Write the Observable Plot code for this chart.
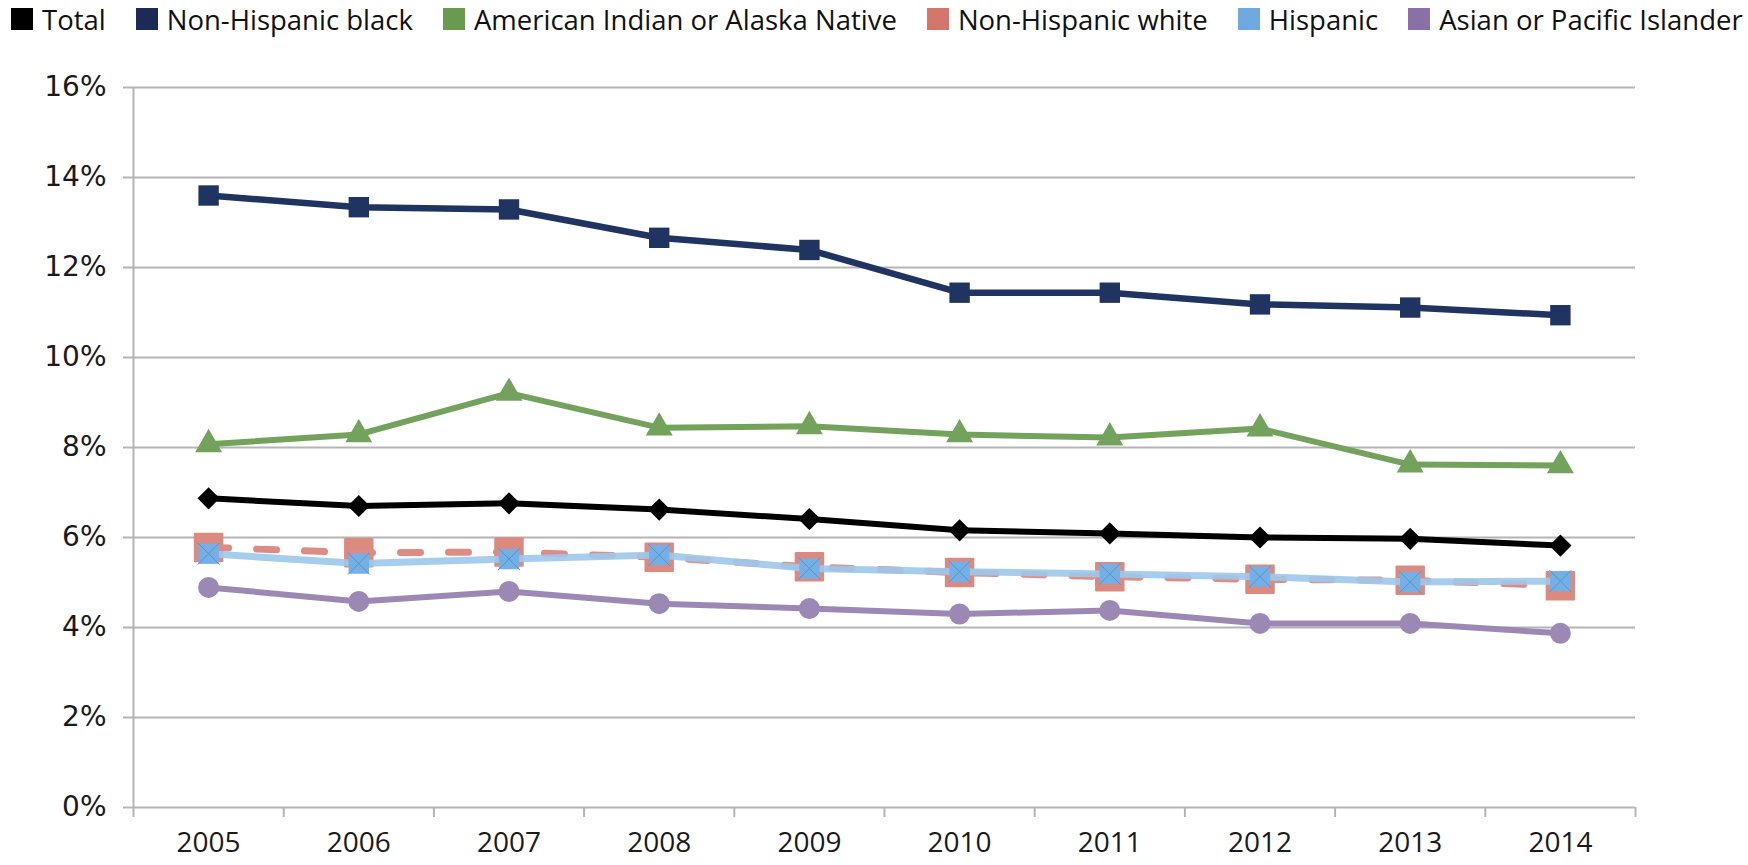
<!DOCTYPE html>
<html>
<head>
<meta charset="utf-8">
<script src="https://cdn.jsdelivr.net/npm/d3@7"></script>
<script src="https://cdn.jsdelivr.net/npm/@observablehq/plot@0.6"></script>
<style>
  html, body { margin: 0; padding: 0; background: #fff; }
  #legend { display: flex; align-items: center; height: 38px; padding-left: 11px; gap: 30px; white-space: nowrap;
    font-family: "Open Sans", sans-serif; font-size: 27.5px; color: #111; }
  #legend .item { display: flex; align-items: center; gap: 9px; white-space: nowrap; }
  #legend .sw { width: 22px; height: 22px; display: inline-block; flex: none; }
  #chart svg { display: block; }
</style>
</head>
<body>
<div id="legend"></div>
<div id="chart"></div>
<script>
const years = [2005, 2006, 2007, 2008, 2009, 2010, 2011, 2012, 2013, 2014];
const total    = [6.87, 6.70, 6.76, 6.62, 6.41, 6.16, 6.09, 6.00, 5.97, 5.82];
const nhBlack  = [13.60, 13.34, 13.29, 12.66, 12.39, 11.44, 11.44, 11.18, 11.11, 10.94];
const aian     = [8.07, 8.29, 9.21, 8.44, 8.47, 8.29, 8.22, 8.42, 7.62, 7.60];
const nhWhite  = [5.78, 5.66, 5.68, 5.56, 5.35, 5.22, 5.13, 5.07, 5.05, 4.93];
const hispanic = [5.64, 5.42, 5.52, 5.61, 5.31, 5.24, 5.19, 5.13, 5.01, 5.03];
const api      = [4.89, 4.58, 4.80, 4.53, 4.42, 4.30, 4.38, 4.09, 4.09, 3.87];
const yTicks = [0, 2, 4, 6, 8, 10, 12, 14, 16];

const seriesNames = ["Total", "Non-Hispanic black", "American Indian or Alaska Native", "Non-Hispanic white", "Hispanic", "Asian or Pacific Islander"];
const swatchColors = ["#000000", "#1c2b55", "#6a9a4f", "#d4766c", "#6fa9df", "#8a70a6"];

const legend = document.getElementById("legend");
seriesNames.forEach((n, i) => {
  const it = document.createElement("div");
  it.className = "item";
  it.innerHTML = `<span class="sw" style="background:${swatchColors[i]}"></span><span>${n}</span>`;
  legend.appendChild(it);
});

const rows = (vals) => years.map((y, i) => ({year: y, value: vals[i]}));
const boundaries = years.map(y => y - 0.5).concat([years[years.length - 1] + 0.5]);
const grid = "#b4b4b4";

const chart = Plot.plot({
  width: 1748,
  height: 827,
  marginLeft: 133,
  marginRight: 113,
  marginTop: 49,
  marginBottom: 58,
  x: {domain: [years[0] - 0.5, years[years.length - 1] + 0.5]},
  y: {domain: [0, 16]},
  marks: [
    Plot.gridY(yTicks, {stroke: grid, strokeOpacity: 1, strokeWidth: 2}),
    Plot.ruleX([years[0] - 0.5], {stroke: grid, strokeWidth: 2}),
    Plot.axisY(yTicks, {tickSize: 10, tickPadding: 17, stroke: grid, strokeWidth: 2, tickFormat: d => d + "%",
      fontSize: 28, fontFamily: "DejaVu Sans", fill: "#1a1a1a", label: null}),
    Plot.axisX(boundaries, {tickSize: 10, stroke: grid, strokeWidth: 2, tickFormat: () => "", label: null}),
    Plot.axisX(years, {tickSize: 0, tickPadding: 25, tickFormat: d => String(d),
      fontSize: 28, fontFamily: "Open Sans", fill: "#1a1a1a", label: null}),
    // Non-Hispanic white (dashed)
    Plot.dot(rows(nhWhite), {x: "year", y: "value", symbol: "square", r: 15.5, fill: "#dc8a80", stroke: "#dc8a80", strokeWidth: 2, strokeLinejoin: "round"}),
    Plot.line(rows(nhWhite), {x: "year", y: "value", stroke: "#de8c83", strokeWidth: 7, strokeDasharray: "20,28", strokeLinecap: "round"}),
    // Hispanic
    Plot.line(rows(hispanic), {x: "year", y: "value", stroke: "#9dc8ec", strokeWidth: 7, strokeOpacity: 0.9}),
    Plot.dot(rows(hispanic), {x: "year", y: "value", symbol: "square", r: 11.5, fill: "#74b0e6"}),
    Plot.dot(rows(hispanic), {x: "year", y: "value", symbol: "times", r: 10, stroke: "#5a93c9", strokeWidth: 1}),
    // Asian or Pacific Islander
    Plot.line(rows(api), {x: "year", y: "value", stroke: "#9c88b5", strokeWidth: 6}),
    Plot.dot(rows(api), {x: "year", y: "value", symbol: "circle", r: 10.5, fill: "#9c88b5"}),
    // Total
    Plot.line(rows(total), {x: "year", y: "value", stroke: "#000", strokeWidth: 6}),
    Plot.dot(rows(total), {x: "year", y: "value", symbol: "diamond2", r: 10, fill: "#000"}),
    // AIAN
    Plot.line(rows(aian), {x: "year", y: "value", stroke: "#72a25b", strokeWidth: 6}),
    Plot.dot(rows(aian), {x: "year", y: "value", symbol: "triangle", r: 10, fill: "#72a25b"}),
    // Non-Hispanic black
    Plot.line(rows(nhBlack), {x: "year", y: "value", stroke: "#1f3461", strokeWidth: 6.5}),
    Plot.dot(rows(nhBlack), {x: "year", y: "value", symbol: "square", r: 11.5, fill: "#1f3461"})
  ]
});
document.getElementById("chart").appendChild(chart);
</script>
</body>
</html>
